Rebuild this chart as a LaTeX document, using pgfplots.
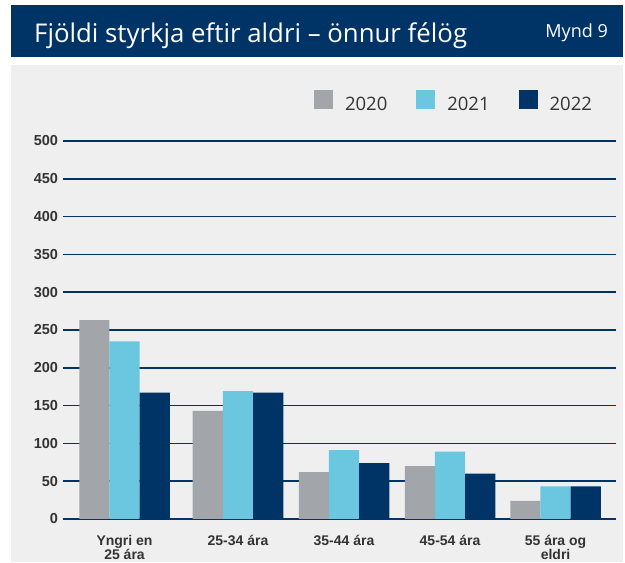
\documentclass[border=0pt]{standalone}
\usepackage{pgfplots}
\pgfplotsset{compat=1.18}
\usepackage{fontspec}
\setmainfont{Open Sans}
\newfontfamily\tickfont{Liberation Sans}
\definecolor{navy}{HTML}{003366}
\definecolor{cgray}{HTML}{A2A5A9}
\definecolor{cblue}{HTML}{6BC7DF}
\definecolor{panel}{HTML}{EFEFEF}
\definecolor{txt}{HTML}{333333}
\begin{document}
\begin{tikzpicture}[x=1pt,y=1pt]
\fill[white] (0,0) rectangle (625,562);
\fill[navy] (11,505) rectangle (623,557);
\fill[panel] (11,0) rectangle (623,497);
\node[anchor=base west, text=white, font=\fontsize{25.8}{28}\selectfont, inner sep=0pt] at (34,519) {Fjöldi styrkja eftir aldri – önnur félög};
\node[anchor=base east, text=white, font=\fontsize{18}{20}\selectfont, inner sep=0pt] at (608,524) {Mynd 9};
\begin{axis}[
  at={(63pt,43pt)}, anchor=south west,
  scale only axis, width=553pt, height=378pt,
  xmin=-0.571, xmax=4.561, ymin=0, ymax=500,
  ybar, bar width=0.28,
  ytick={0,50,...,500},
  xtick={0,1.053,2.037,3.021,4},
  xticklabels={{Yngri en\\25 ára},{25-34 ára},{35-44 ára},{45-54 ára},{55 ára og\\eldri}},
  axis line style={draw=none},
  major tick length=0pt,
  ymajorgrids, grid style={navy, line width=1.5pt},
  /pgf/number format/assume math mode=true,
  yticklabel style={font=\tickfont\bfseries\fontsize{14.5}{15}\selectfont, text=txt, xshift=-1.5pt},
  xticklabel style={font=\tickfont\bfseries\fontsize{14}{13.5}\selectfont, text=txt, align=center, anchor=north, yshift=-13pt},
  legend columns=3,
  legend image code/.code={\fill[#1] (0pt,-4pt) rectangle (19pt,15pt);},
  legend style={draw=none, fill=none, inner sep=0pt, outer sep=0pt,
    at={(0.4539,1.106)}, anchor=west,
    font=\fontsize{18.5}{20}\selectfont, text=txt,
    nodes={inner sep=0pt},
    /tikz/every odd column/.append style={column sep=12pt},
    /tikz/every even column/.append style={column sep=29pt}},
]
\addplot[fill=cgray, draw=none, bar shift=-0.28] coordinates {(0,263) (1.053,143) (2.037,62) (3.021,70) (4,24)};
\addplot[fill=cblue, draw=none, bar shift=0] coordinates {(0,235) (1.053,169) (2.037,91) (3.021,89) (4,43)};
\addplot[fill=navy, draw=none, bar shift=0.28] coordinates {(0,167) (1.053,167) (2.037,74) (3.021,60) (4,43)};
\legend{2020,2021,2022}
\end{axis}
\end{tikzpicture}
\end{document}
